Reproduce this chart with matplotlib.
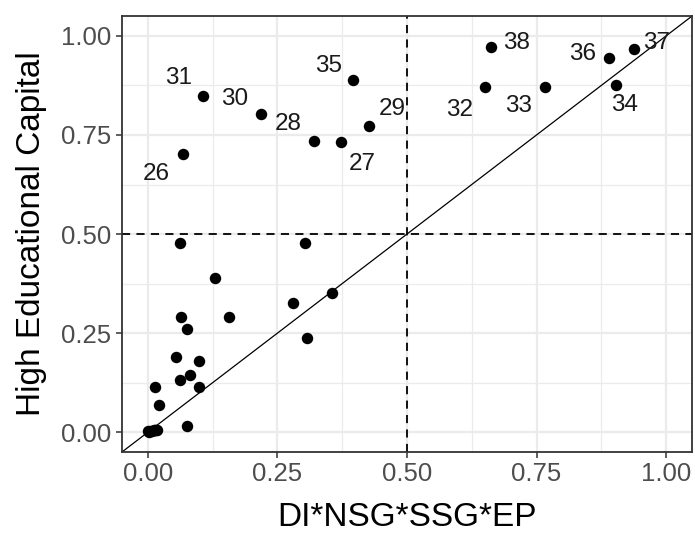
import matplotlib
matplotlib.use("Agg")
import matplotlib.pyplot as plt
import numpy as np

plt.rcParams['font.family'] = ['Liberation Sans', 'DejaVu Sans']

# Labelled cases
lab_names = ["26", "27", "28", "29", "30", "31", "32", "33", "34", "35", "36", "37", "38"]
lab_x = [0.067, 0.373, 0.320, 0.426, 0.219, 0.107, 0.651, 0.766, 0.904, 0.396, 0.890, 0.938, 0.663]
lab_y = [0.702, 0.732, 0.736, 0.772, 0.802, 0.848, 0.871, 0.871, 0.877, 0.888, 0.943, 0.967, 0.971]

# Unlabelled cases
other_x = [0.062, 0.303, 0.129, 0.063, 0.076, 0.156, 0.280, 0.356, 0.307, 0.054,
           0.098, 0.062, 0.081, 0.098, 0.0135, 0.022, 0.075,
           0.000, 0.004, 0.008, 0.011, 0.014, 0.016, 0.002, 0.018]
other_y = [0.478, 0.478, 0.390, 0.290, 0.261, 0.290, 0.326, 0.350, 0.237, 0.190,
           0.179, 0.131, 0.144, 0.114, 0.114, 0.068, 0.015,
           0.003, 0.003, 0.004, 0.005, 0.005, 0.006, 0.001, 0.006]

x_ticks = [0.0, 0.25, 0.5, 0.75, 1.0]
y_ticks = [0.0, 0.25, 0.5, 0.75, 1.0]
tick_labels = ["0.00", "0.25", "0.50", "0.75", "1.00"]

# label offsets (pixels)
offsets = {"26": (-26, -20), "27": (21, -22), "28": (-26, 17), "29": (24, 17),
           "30": (-27, 15), "31": (-25, 18), "32": (-26, -23), "33": (-26, -19),
           "34": (8, -20), "35": (-25, 14), "36": (-27, 4), "37": (23, 6), "38": (25, 4)}

fig = plt.figure(figsize=(6.95, 5.36), dpi=100)
ax = fig.add_axes([0.1755, 0.1567, 0.8202, 0.8133])

lo, hi = -0.05, 1.05
ax.set_xlim(lo, hi)
ax.set_ylim(lo, hi)

# grid
minor = [0.125, 0.375, 0.625, 0.875]
ax.set_xticks(x_ticks)
ax.set_yticks(y_ticks)
ax.set_xticks(minor, minor=True)
ax.set_yticks(minor, minor=True)
ax.grid(which='major', color='#EBEBEB', linewidth=1.6)
ax.grid(which='minor', color='#EBEBEB', linewidth=0.9)
ax.tick_params(which='minor', length=0)
ax.set_axisbelow(True)

ax.set_xticklabels(tick_labels)
ax.set_yticklabels(tick_labels)
ax.tick_params(which='major', length=4.5, width=1.1, color='#333333',
               labelcolor='#4D4D4D', labelsize=18.5, pad=3)

for s in ax.spines.values():
    s.set_color('#333333')
    s.set_linewidth(1.3)

# reference lines
ax.plot([lo, hi], [lo, hi], color='black', linewidth=0.9, zorder=2)
ax.axvline(0.5, color='black', linewidth=1.3, linestyle=(0, (4.5, 3.5)), zorder=2)
ax.axhline(0.5, color='black', linewidth=1.3, linestyle=(0, (4.5, 3.5)), zorder=2)

ax.scatter(other_x, other_y, s=68, color='black', zorder=3, linewidths=0)
ax.scatter(lab_x, lab_y, s=68, color='black', zorder=3, linewidths=0)

for n, x, y in zip(lab_names, lab_x, lab_y):
    dx, dy = offsets[n]
    ax.annotate(n, (x, y), xytext=(dx, dy), textcoords='offset pixels',
                ha='center', va='center', fontsize=17.5, color='#1a1a1a', zorder=4)

ax.set_xlabel("DI*NSG*SSG*EP", fontsize=24, color='black', labelpad=11)
ax.set_ylabel("High Educational Capital", fontsize=24, color='black', labelpad=10)

fig.savefig("out.png", dpi=100)
